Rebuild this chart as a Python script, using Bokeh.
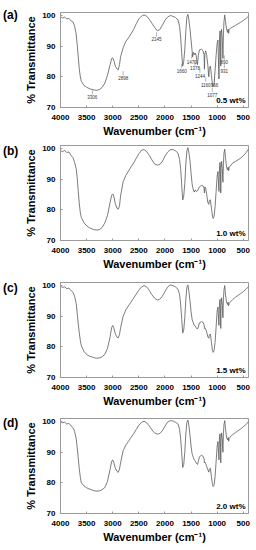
from bokeh.plotting import figure
from bokeh.models import Range1d, FixedTicker, Label, ColumnDataSource, Div
from bokeh.layouts import column, row
from bokeh.embed import file_html
from bokeh.resources import INLINE
from bokeh.core.properties import value

# ---------------- data ----------------
wavenumber = [
    4000, 3960, 3920, 3880, 3840, 3800, 3760, 3730, 3700, 3680,
    3660, 3640, 3620, 3600, 3550, 3500, 3450, 3400, 3350, 3300,
    3250, 3200, 3150, 3100, 3050, 3020, 3000, 2980, 2950, 2920,
    2895, 2870, 2850, 2800, 2750, 2700, 2650, 2600, 2550, 2500,
    2450, 2400, 2350, 2300, 2250, 2200, 2145, 2100, 2050, 2000,
    1950, 1900, 1850, 1800, 1750, 1720, 1700, 1680, 1660, 1640,
    1620, 1600, 1580, 1560, 1540, 1520, 1500, 1480, 1470, 1455,
    1440, 1420, 1400, 1378, 1360, 1340, 1300, 1270, 1250, 1244,
    1235, 1220, 1200, 1180, 1160, 1150, 1130, 1110, 1090, 1077,
    1060, 1040, 1020, 1000, 985, 966, 955, 945, 935, 931,
    925, 915, 900, 890, 880, 870, 855, 840, 820, 800,
    790, 780, 770, 750, 700, 650, 600, 550, 500, 450,
    400,
]

trans_05 = [
    99.6, 99.2, 99.5, 98.9, 99.1, 98.3, 97.9, 96.5, 94.0, 90.5,
    86.5, 82.5, 80.0, 78.5, 77.2, 76.6, 76.2, 75.9, 75.7, 75.6,
    75.9, 76.6, 78.0, 80.5, 84.0, 86.0, 86.2, 85.5, 83.5, 82.6,
    82.3, 84.0, 86.5, 89.5, 91.5, 92.7, 94.0, 95.5, 97.3, 98.9,
    99.8, 100.2, 99.8, 98.8, 97.5, 96.2, 95.0, 95.4, 96.8, 98.5,
    99.5, 100.0, 99.8, 99.4, 98.6, 96.5, 93.0, 88.0, 83.5, 85.0,
    89.0, 95.0, 99.5, 100.4, 98.5, 95.5, 92.0, 88.5, 86.5, 88.0,
    87.2, 87.8, 86.8, 84.0, 87.0, 88.8, 89.0, 88.5, 87.0, 82.5,
    87.5, 88.5, 87.0, 84.0, 80.0, 83.0, 83.5, 80.5, 77.5, 76.8,
    77.5, 82.0, 87.0, 91.0, 92.0, 79.3, 92.5, 95.0, 90.0, 83.5,
    94.0, 95.5, 92.0, 86.0, 94.0, 98.0, 100.2, 98.0, 95.5, 94.5,
    95.6, 94.2, 95.4, 95.8, 96.3, 96.8, 97.3, 97.8, 98.4, 99.0,
    99.8,
]

trans_10 = [
    99.3, 99.0, 99.4, 98.7, 98.9, 97.8, 97.0, 95.5, 93.5, 90.5,
    86.0, 82.0, 79.0, 77.5, 75.8, 74.8, 74.2, 73.8, 73.5, 73.4,
    73.6, 74.3, 75.8, 78.2, 82.5, 84.8, 85.2, 84.5, 82.0, 80.6,
    80.2, 81.3, 84.5, 89.2, 91.2, 92.6, 94.0, 95.3, 96.8, 98.3,
    99.4, 99.7, 99.0, 97.8, 96.3, 95.0, 94.6, 94.8, 95.8, 97.5,
    98.8, 99.6, 99.7, 99.3, 98.5, 96.5, 93.5, 88.5, 83.2, 84.5,
    88.5, 95.0, 99.3, 100.3, 98.5, 96.0, 92.0, 88.5, 87.5, 86.5,
    85.8, 86.5, 86.0, 86.2, 86.8, 87.5, 88.0, 87.8, 87.0, 85.5,
    87.5, 87.0, 85.0, 82.5, 81.8, 83.0, 83.3, 80.5, 78.0, 77.2,
    77.8, 81.0, 86.0, 91.0, 92.5, 86.0, 94.0, 95.5, 91.0, 85.5,
    93.5, 95.8, 93.0, 89.0, 95.0, 98.5, 99.8, 97.0, 93.8, 93.0,
    94.0, 92.8, 93.8, 94.3, 95.3, 95.8, 96.3, 96.9, 97.6, 98.6,
    99.8,
]

trans_15 = [
    99.8, 99.4, 99.6, 99.0, 99.2, 98.4, 97.8, 96.5, 94.2, 91.0,
    87.5, 84.5, 82.0, 80.3, 78.5, 77.5, 77.0, 76.7, 76.4, 76.3,
    76.4, 76.8, 77.6, 79.5, 83.3, 86.3, 87.0, 86.2, 84.3, 83.2,
    82.9, 84.0, 86.2, 90.0, 92.0, 93.4, 94.6, 95.9, 97.2, 98.5,
    99.5, 100.0, 99.6, 98.4, 97.0, 95.9, 95.3, 95.5, 96.5, 98.0,
    99.5, 100.2, 100.0, 99.6, 98.8, 97.0, 94.0, 89.5, 84.5, 85.5,
    89.5, 95.5, 99.5, 100.2, 98.0, 95.0, 91.5, 89.0, 88.4, 87.8,
    87.0, 86.8, 86.2, 85.8, 86.5, 87.8, 88.2, 88.0, 87.2, 86.0,
    86.2, 85.8, 84.8, 83.3, 82.8, 83.8, 84.2, 81.5, 78.8, 78.2,
    78.7, 81.5, 86.5, 91.8, 93.0, 87.0, 94.5, 95.5, 91.0, 86.0,
    93.5, 96.0, 93.5, 89.5, 95.5, 98.5, 100.0, 97.0, 94.5, 93.8,
    94.6, 93.4, 94.2, 94.6, 95.5, 96.2, 96.8, 97.4, 98.0, 98.8,
    99.6,
]

trans_20 = [
    100.0, 99.6, 99.8, 99.2, 99.4, 98.6, 98.0, 96.8, 94.5, 91.5,
    88.0, 84.5, 81.8, 80.0, 79.0, 78.4, 78.0, 77.7, 77.4, 77.3,
    77.4, 77.8, 78.5, 80.5, 84.5, 87.0, 87.5, 86.7, 84.8, 83.8,
    83.4, 84.5, 86.5, 90.5, 92.3, 93.5, 94.8, 96.0, 97.4, 98.8,
    99.7, 100.1, 99.6, 98.6, 97.3, 96.3, 95.9, 96.1, 97.0, 98.5,
    99.8, 100.3, 100.2, 99.8, 99.2, 97.5, 94.5, 90.0, 85.0, 86.0,
    90.0, 96.0, 99.8, 100.5, 98.5, 95.5, 92.0, 89.5, 89.0, 88.2,
    87.5, 87.2, 86.5, 86.0, 87.0, 88.5, 89.0, 88.7, 87.8, 86.5,
    86.8, 86.3, 85.3, 84.3, 83.5, 84.5, 84.8, 82.0, 79.5, 78.8,
    79.2, 82.0, 87.0, 92.0, 93.5, 87.5, 95.0, 96.0, 91.5, 86.5,
    94.0, 96.3, 94.0, 90.0, 96.0, 99.0, 100.3, 97.5, 94.8, 94.0,
    94.8, 93.6, 94.5, 95.0, 95.8, 96.4, 97.0, 97.6, 98.3, 99.0,
    100.0,
]

series = [trans_05, trans_10, trans_15, trans_20]
panel_letters = ["(a)", "(b)", "(c)", "(d)"]
loadings = ["0.5 wt%", "1.0 wt%", "1.5 wt%", "2.0 wt%"]

x_ticks = [4000, 3500, 3000, 2500, 2000, 1500, 1000, 500]
y_ticks = [70, 80, 90, 100]

# peak annotations of panel (a)
peak_text = ["3306", "2898", "2145", "1660", "1470", "1378", "1244",
             "1160", "1077", "966", "931", "890"]
peak_label_x = [3390, 2800, 2162, 1680, 1487, 1425, 1331,
                1219, 1094, 1050, 863, 863]
peak_label_y = [73.3, 79.6, 92.2, 82.0, 85.0, 82.8, 80.4,
                77.5, 74.2, 77.5, 82.0, 84.7]

FONT = "Liberation Sans"
FRAME = "#9a9a9a"

# layout (pixels)
heights = [141, 137, 136, 136]
tops = [12, 4, 4, 4]
letter_top = [9, 4, 4, 3]
DIV_W = 22

rows = []
for i in range(4):
    bottom = heights[i] - tops[i] - 95
    p = figure(width=256 - DIV_W, height=heights[i],
               x_range=Range1d(4000, 400), y_range=Range1d(70, 101),
               output_backend="svg", toolbar_location=None,
               min_border_left=34, min_border_right=8,
               min_border_top=tops[i], min_border_bottom=bottom)
    p.grid.visible = False
    p.outline_line_color = FRAME
    p.background_fill_color = "white"
    p.border_fill_color = "white"

    src = ColumnDataSource(dict(wn=wavenumber, t=series[i]))
    p.line("wn", "t", source=src, line_color="#5a5a5a", line_width=0.8)

    p.xaxis.ticker = FixedTicker(ticks=x_ticks)
    p.yaxis.ticker = FixedTicker(ticks=y_ticks)
    for ax in (p.xaxis, p.yaxis):
        ax.major_label_text_font = FONT
        ax.major_label_text_font_style = "bold"
        ax.major_label_text_font_size = "8px"
        ax.major_label_text_color = "black"
        ax.minor_tick_line_color = None
        ax.major_tick_in = 2
        ax.major_tick_out = 0
        ax.major_tick_line_color = FRAME
        ax.axis_line_color = FRAME
        ax.axis_label_text_font = FONT
        ax.axis_label_text_font_style = "bold"
        ax.axis_label_text_color = "black"
    p.xaxis.axis_label = "Wavenumber (cm\u207b\u00b9)"
    p.xaxis.axis_label_text_font_size = "11px"
    p.xaxis.axis_label_standoff = 2
    p.xaxis.major_label_standoff = 7
    p.yaxis.axis_label = "% Transmittance"
    p.yaxis.axis_label_text_font_size = "11px"
    p.yaxis.axis_label_standoff = 2
    p.yaxis.major_label_standoff = 5

    p.add_layout(Label(x=400, y=70.7, x_offset=-3, text=loadings[i],
                       text_align="right", text_baseline="bottom",
                       text_font=FONT, text_font_style="bold",
                       text_font_size="8px", text_color="black"))

    if i == 0:
        ann = ColumnDataSource(dict(
            x=peak_label_x, y=peak_label_y, text=peak_text,
            y0=[v + 0.9 for v in peak_label_y],
            y1=[v + 2.3 for v in peak_label_y]))
        p.segment(x0="x", y0="y0", x1="x", y1="y1", source=ann,
                  line_color="#666666", line_width=0.5)
        p.text(x="x", y="y", text="text", source=ann,
               text_font=value(FONT), text_font_size="4.5px",
               text_align="center", text_baseline="middle",
               text_color="#333333")

    letter = Div(
        text=(f'<div style="margin:{letter_top[i]}px 0 0 3px;'
              f'font-family:{FONT};font-weight:bold;font-size:12px;'
              f'line-height:12px;color:black;white-space:nowrap">'
              f'{panel_letters[i]}</div>'),
        width=DIV_W, height=heights[i], margin=0)
    rows.append(row(letter, p, spacing=0))

layout = column(*rows, spacing=0)
open("out.html", "w").write(file_html(layout, INLINE))
